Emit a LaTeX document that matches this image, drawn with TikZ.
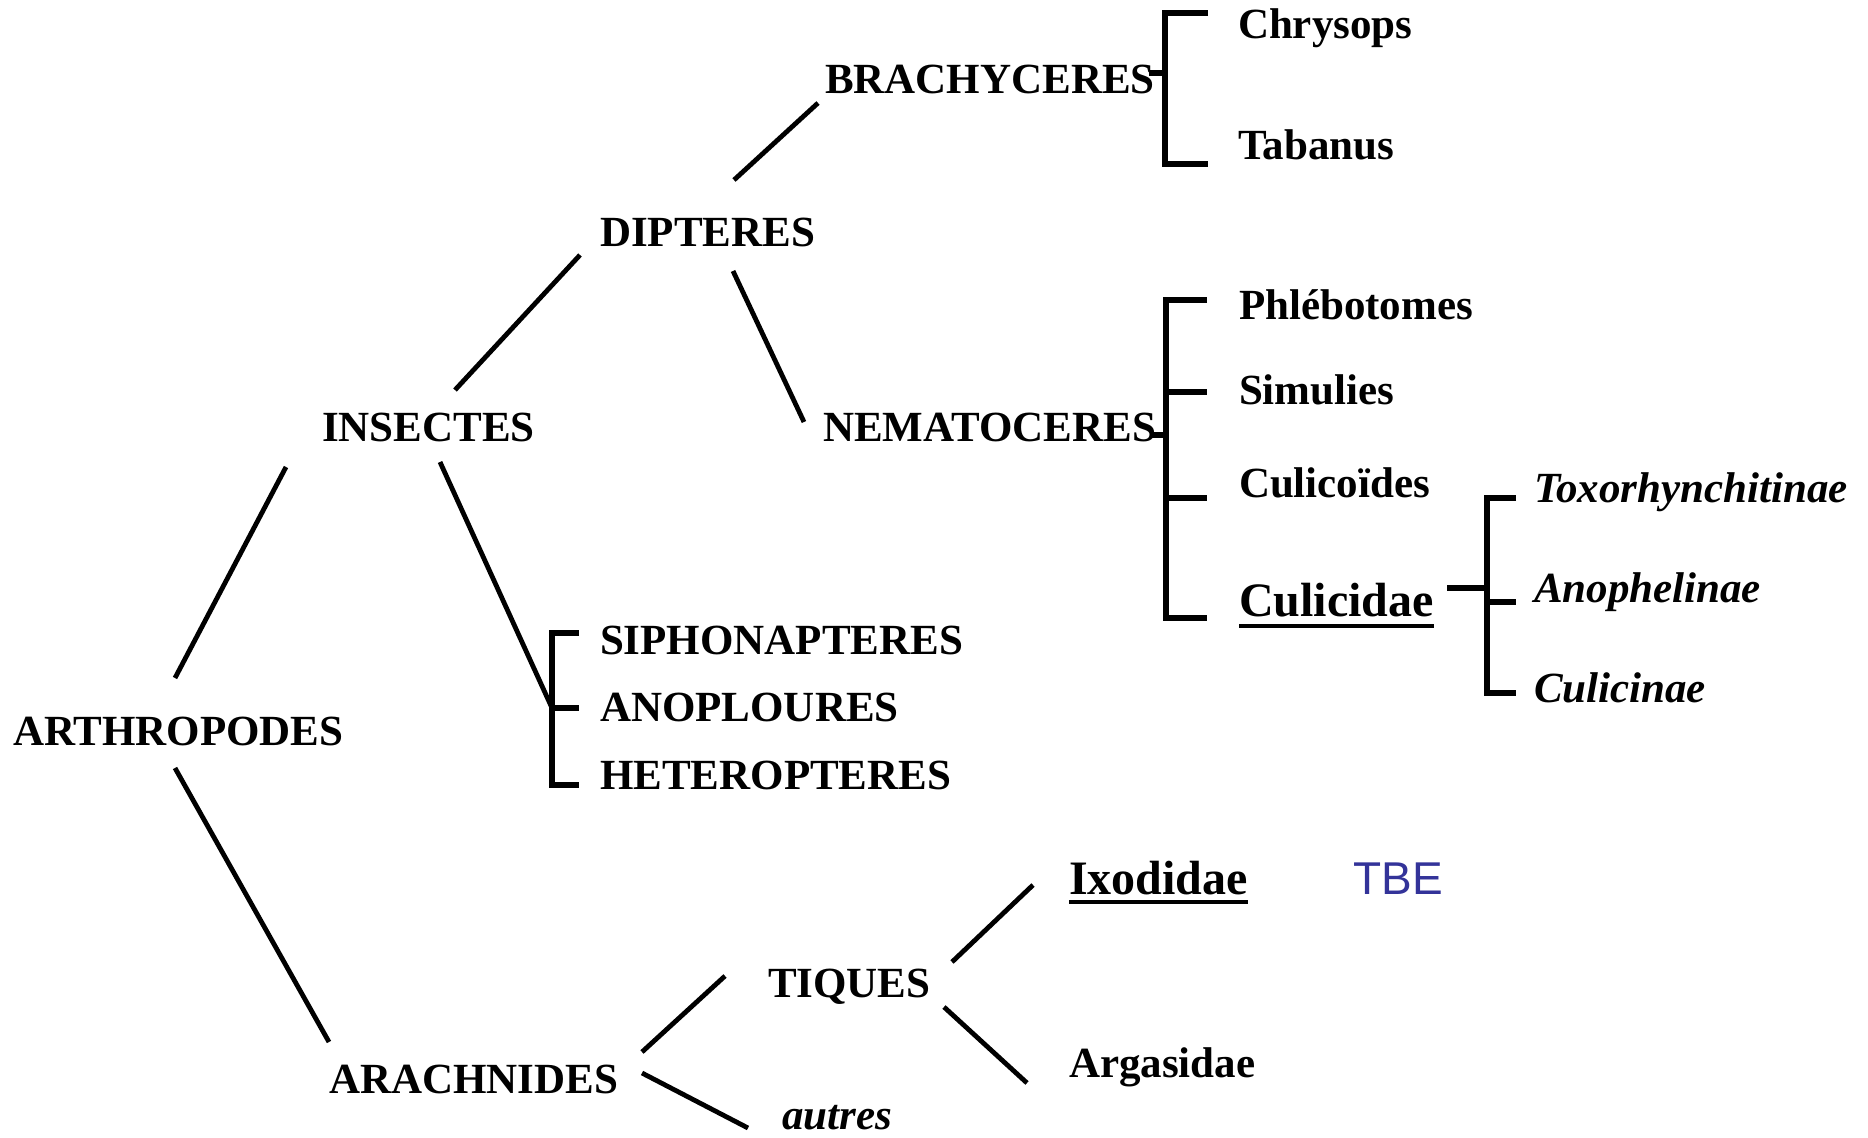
\documentclass[tikz,border=0pt]{standalone}
\usepackage{fontspec}
\setmainfont{Liberation Serif}
\newfontfamily\tbefont{Liberation Sans}
\usetikzlibrary{calc}
\definecolor{tbeblue}{RGB}{51,51,153}
\begin{document}
\begin{tikzpicture}[x=0.5pt,y=-0.5pt,
  lab/.style={inner sep=0pt,outer sep=0pt,anchor=base west,font=\bfseries\fontsize{21.5}{26}\selectfont},
  biglab/.style={lab,font=\bfseries\fontsize{24}{29}\selectfont},
  itlab/.style={lab,font=\bfseries\itshape\fontsize{21.5}{26}\selectfont},
  tbelab/.style={inner sep=0pt,anchor=base west,font=\tbefont\fontsize{23}{28}\selectfont,text=tbeblue},
  branch/.style={line width=2.4pt},
  brk/.style={line width=2.6pt},
  ul/.style={line width=2pt}]
\fill[white] (0,0) rectangle (1868,1138);
\useasboundingbox (0,0) rectangle (1868,1138);

% labels
\node[lab] (arth) at (13,745) {ARTHROPODES};
\node[lab] (ins) at (322,442) {INSECTES};
\node[lab] (dip) at (600,247) {DIPTERES};
\node[lab] (bra) at (825,94) {BRACHYCERES};
\node[lab] (nem) at (823,442) {NEMATOCERES};
\node[lab] (chr) at (1238,39) {Chrysops};
\node[lab] (tab) at (1238,160) {Tabanus};
\node[lab] (phl) at (1239,320) {Phlébotomes};
\node[lab] (sim) at (1239,405) {Simulies};
\node[lab] (cuo) at (1239,498) {Culicoïdes};
\node[biglab] (cul) at (1239,617) {Culicidae};
\node[itlab] (tox) at (1534,503) {Toxorhynchitinae};
\node[itlab] (ano) at (1534,603) {Anophelinae};
\node[itlab] (cln) at (1534,702) {Culicinae};
\node[lab] (sip) at (600,654) {SIPHONAPTERES};
\node[lab] (anp) at (600,721) {ANOPLOURES};
\node[lab] (het) at (600,789) {HETEROPTERES};
\node[biglab] (ixo) at (1069,894) {Ixodidae};
\node[tbelab] (tbe) at (1353,894) {TBE};
\node[lab] (tiq) at (768,997) {TIQUES};
\node[lab] (arg) at (1069,1077) {Argasidae};
\node[lab] (ara) at (329,1093) {ARACHNIDES};
\node[itlab] (aut) at (782,1129) {autres};

% underlines
\draw[ul] ($(cul.base west)+(0,9)$) -- ($(cul.base east)+(0,9)$);
\draw[ul] ($(ixo.base west)+(0,8)$) -- ($(ixo.base east)+(0,8)$);

% bracket junctions
\coordinate (bj) at (1165,73);
\coordinate (nj) at (1166,435);
\coordinate (cj) at (1487,588);
\coordinate (sj) at (552,708);

% diagonal branches
\draw[branch] ($(arth.base west)+(162,-67)$) -- ($(ins.base west)+(-36,25)$);
\draw[branch] ($(arth.base west)+(162,23)$) -- ($(ara.base west)+(0,-51)$);
\draw[branch] ($(ins.base west)+(133,-52)$) -- ($(dip.base west)+(-20,8)$);
\draw[branch] ($(ins.base west)+(118,20)$) -- (sj);
\draw[branch] ($(dip.base west)+(134,-67)$) -- ($(bra.base west)+(-7,9)$);
\draw[branch] ($(dip.base west)+(133,24)$) -- ($(nem.base west)+(-19,-20)$);
\draw[branch] ($(ara.base west)+(313,-41)$) -- ($(tiq.base west)+(-43,-21)$);
\draw[branch] ($(ara.base west)+(313,-20)$) -- ($(aut.base west)+(-34,-1)$);
\draw[branch] ($(tiq.base west)+(184,-35)$) -- ($(ixo.base west)+(-36,-9)$);
\draw[branch] ($(tiq.base west)+(176,10)$) -- ($(arg.base west)+(-42,6)$);

% brackets
\draw[brk] ($(bra.base east |- bj)+(-6,0)$) -- (bj);
\draw[brk] (1208,13) -- (1165,13) -- (1165,164) -- (1208,164);

\draw[brk] ($(nem.base east |- nj)+(-6,0)$) -- (nj);
\draw[brk] (1207,300) -- (1166,300) -- (1166,618) -- (1207,618);
\draw[brk] (1166,392) -- (1207,392);
\draw[brk] (1166,498) -- (1207,498);

\draw[brk] (1447,588) -- (cj);
\draw[brk] (1516,498) -- (1487,498) -- (1487,693) -- (1516,693);
\draw[brk] (1487,602) -- (1516,602);

\draw[brk] (579,633) -- (552,633) -- (552,785) -- (579,785);
\draw[brk] (sj) -- (579,708);
\end{tikzpicture}
\end{document}
